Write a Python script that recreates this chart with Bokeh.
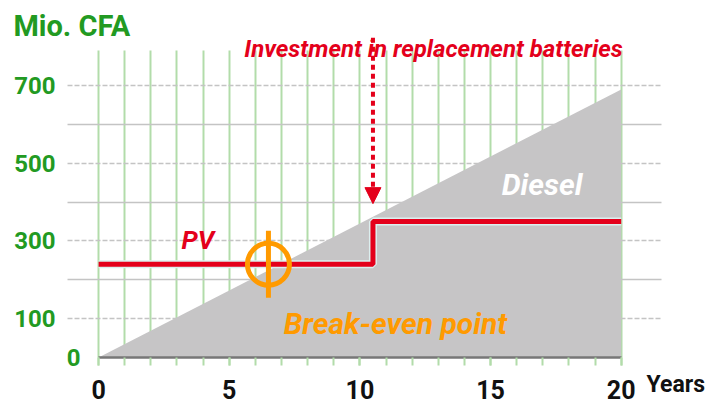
import math
from bokeh.plotting import figure
from bokeh.models import (Range1d, FixedTicker, SingleIntervalTicker, Grid, Label,
                          Arrow, NormalHead, LinearAxis)
from bokeh.embed import file_html
from bokeh.resources import INLINE

# ---- data ----
years = [0, 20]
diesel = [0, 690]
pv_years = [0, 10.5, 20]
pv_cost = [240, 350, 350]
y_ticks = [100, 300, 500, 700]
y_zero = [0]
grid_odd = [100, 300, 500, 700]
grid_even = [200, 400, 600]
breakeven_year = [6.5]
breakeven_cost = [240]
replacement_year = 10.5

FONT = "Roboto"
GREEN = "#229a22"
RED = "#e4001b"
ORANGE = "#ff9a00"
GRAY = "#c6c5c6"
VGRID = "#b2dcaa"
HGRID = "#c4c4c4"

p = figure(width=711, height=404, output_backend="svg", toolbar_location=None,
           x_range=Range1d(-3.754, 23.456), y_range=Range1d(-120.9, 918.7),
           min_border_left=0, min_border_right=0, min_border_top=0,
           min_border_bottom=0)
p.outline_line_color = None

# vertical green grid
p.xgrid.ticker = SingleIntervalTicker(interval=1)
p.xgrid.bounds = (0, 20)
p.xgrid.cross_bounds = (0, 790)
p.xgrid.grid_line_color = VGRID
p.xgrid.grid_line_width = 2

# horizontal grey grid
p.ygrid.ticker = FixedTicker(ticks=grid_odd)
p.ygrid.cross_bounds = (-1.19, 21.53)
p.ygrid.grid_line_color = HGRID
p.ygrid.grid_line_width = 1.5
p.ygrid.grid_line_dash = "5 2"
g2 = Grid(dimension=1, ticker=FixedTicker(ticks=grid_even), cross_bounds=(-1.19, 21.53),
          grid_line_color=HGRID, grid_line_width=1.5)
p.add_layout(g2)

def style_yaxis(ax, standoff):
    ax.axis_line_color = None
    ax.major_tick_out = 0
    ax.major_tick_in = 0
    ax.minor_tick_out = 0
    ax.minor_tick_in = 0
    ax.major_label_text_color = GREEN
    ax.major_label_text_font = FONT
    ax.major_label_text_font_size = "24px"
    ax.major_label_text_font_style = "bold"
    ax.major_label_standoff = standoff

# y axis
p.yaxis.fixed_location = -1.19
p.yaxis.ticker = FixedTicker(ticks=y_ticks)
style_yaxis(p.yaxis[0], 12)

y0axis = LinearAxis(fixed_location=0, ticker=FixedTicker(ticks=y_zero))
style_yaxis(y0axis, 18)
p.add_layout(y0axis, "left")

# x axis
p.xaxis.fixed_location = 0
p.xaxis.ticker = SingleIntervalTicker(interval=5, num_minor_ticks=5)
p.xaxis.bounds = (0, 20)
p.xaxis.axis_line_color = "#777777"
p.xaxis.axis_line_width = 2.5
p.xaxis.major_tick_line_color = VGRID
p.xaxis.major_tick_line_width = 2
p.xaxis.major_tick_out = 8
p.xaxis.major_tick_in = 0
p.xaxis.minor_tick_line_color = VGRID
p.xaxis.minor_tick_line_width = 2
p.xaxis.minor_tick_out = 8
p.xaxis.minor_tick_in = 0
p.xaxis.major_label_text_color = "#111111"
p.xaxis.major_label_text_font = FONT
p.xaxis.major_label_text_font_size = "25px"
p.xaxis.major_label_text_font_style = "bold"
p.xaxis.major_label_standoff = 14

# diesel cost area
p.varea(x=years, y1=[0, 0], y2=diesel, fill_color=GRAY)

# PV cost line
p.step(x=pv_years, y=pv_cost, mode="after", line_color="#dcefef", line_width=8)
p.step(x=pv_years, y=pv_cost, mode="after", line_color=RED, line_width=5)

# break-even marker
p.scatter(x=breakeven_year, y=breakeven_cost, marker="circle", size=42,
          fill_color=None, line_color=ORANGE, line_width=5)
p.scatter(x=breakeven_year, y=breakeven_cost, marker="dash", angle=math.pi / 2,
          size=67, line_color=ORANGE, line_width=5)

# replacement arrow
p.add_layout(Arrow(x_start=replacement_year, y_start=823, x_end=replacement_year, y_end=396,
                   line_color=RED, line_width=4, line_dash="5 4",
                   end=NormalHead(size=16, fill_color=RED, line_color=RED)))

def lab(x, y, text, color, size, align="center", style="bold italic"):
    p.add_layout(Label(x=x, y=y, text=text, text_color=color, text_font=FONT,
                       text_font_size=size, text_font_style=style,
                       text_align=align, text_baseline="alphabetic"))

lab(-3.26, 854, "Mio. CFA", GREEN, "29px", align="left", style="bold")
lab(12.82, 793, "Investment in replacement batteries", RED, "24px")
lab(3.80, 302, "PV", RED, "26px")
lab(16.97, 444, "Diesel", "white", "30px")
lab(11.36, 88, "Break-even point", ORANGE, "30px")
lab(20.97, -70, "Years", "#111111", "23px", align="left", style="bold")

open("out.html", "w").write(file_html(p, INLINE))
